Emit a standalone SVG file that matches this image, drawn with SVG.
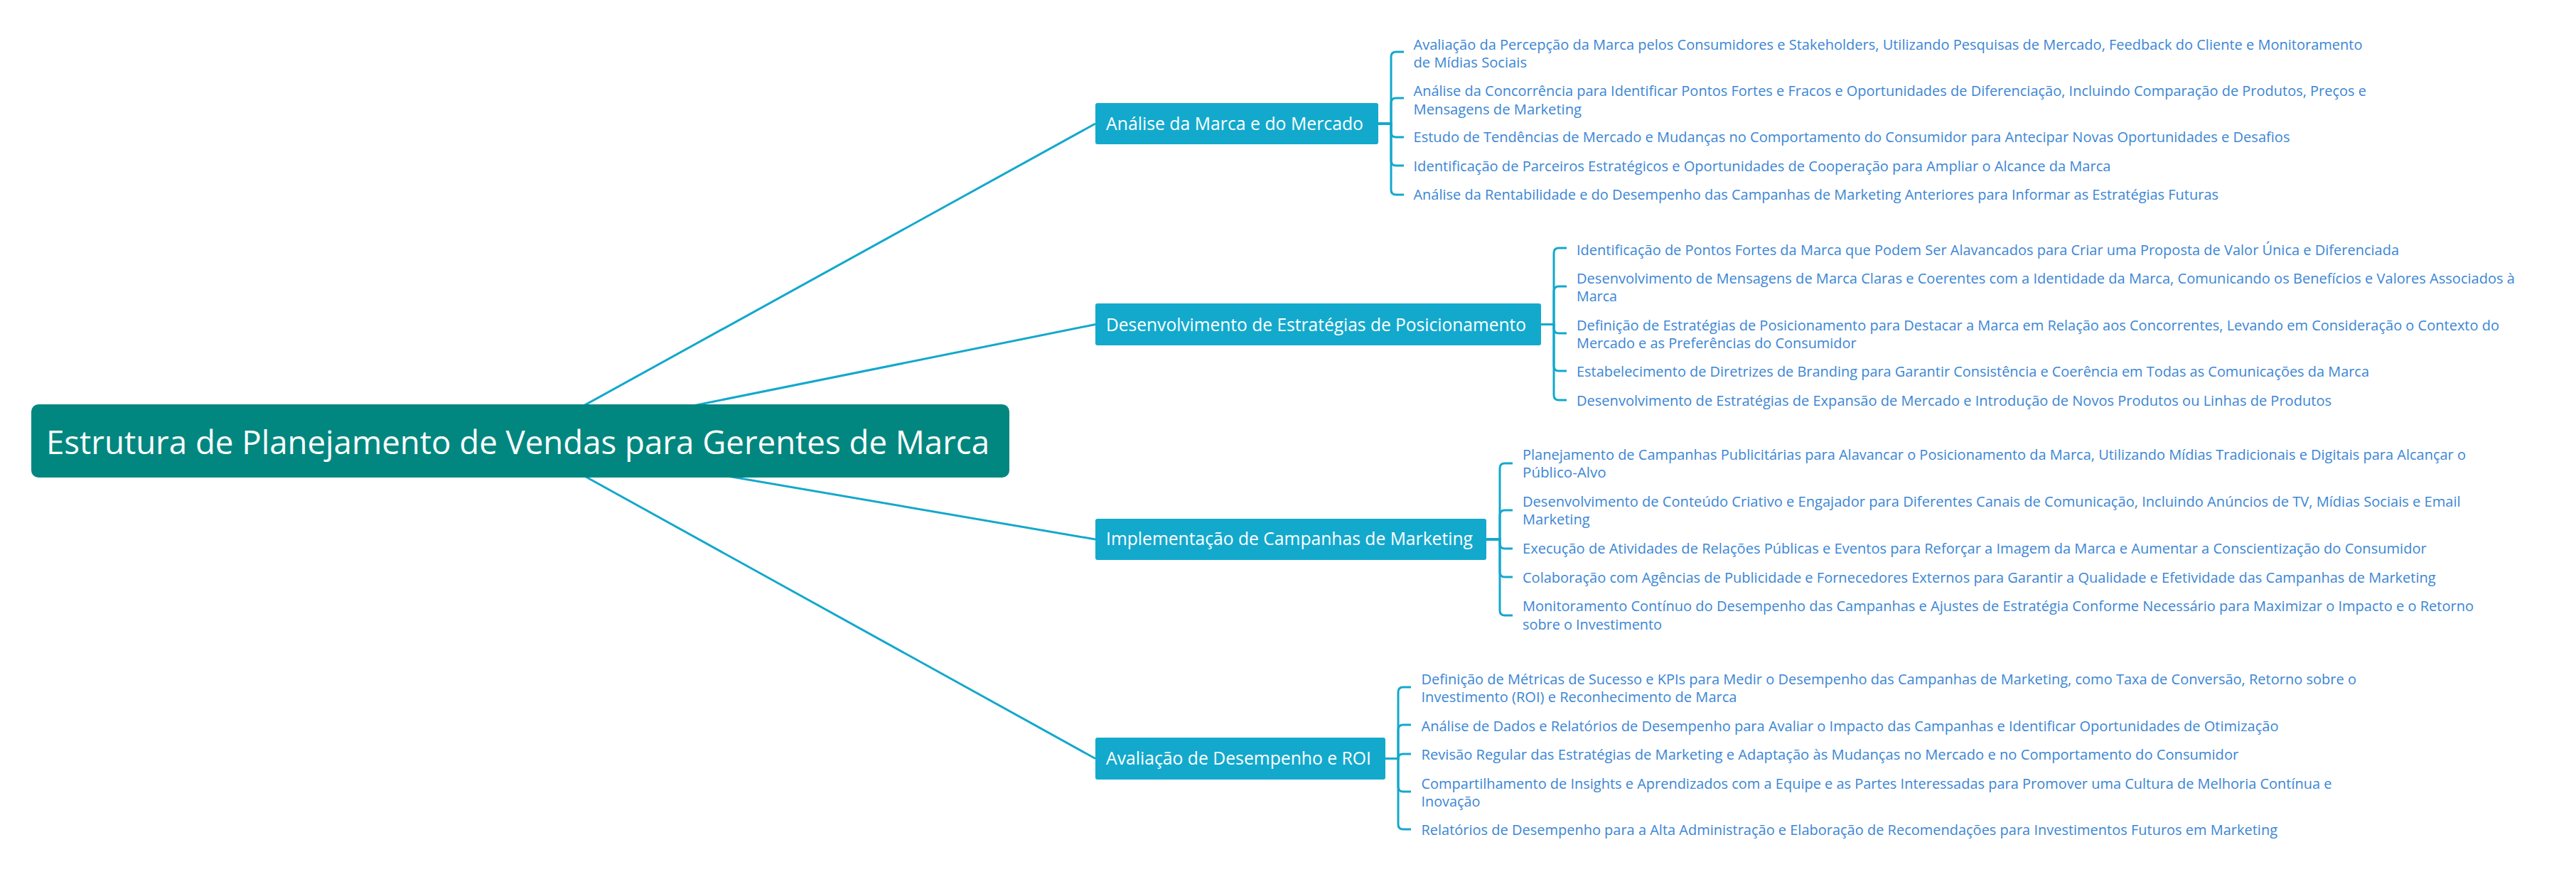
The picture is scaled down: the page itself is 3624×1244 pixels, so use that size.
<svg xmlns="http://www.w3.org/2000/svg" width="3624" height="1244" viewBox="0 0 3624 1244">
<style>
.bg{fill:#ffffff}
.main{stroke:#13a8cc;stroke-width:3;fill:none}
.br{stroke:#13a8cc;stroke-width:3;fill:none;stroke-linecap:butt}
.root{fill:#028780}
.node{fill:#13a9cd}
.rt{font-family:"Open Sans","Noto Sans","DejaVu Sans",sans-serif;font-size:46px;fill:#ffffff}
.nt{font-family:"Open Sans","Noto Sans","DejaVu Sans",sans-serif;font-size:25px;fill:#ffffff}
.ct{font-family:"Open Sans","Noto Sans","DejaVu Sans",sans-serif;font-size:20px;fill:#3b86d4}
</style>
<rect class="bg" x="0" y="0" width="3624" height="1244"/>
<g id="connectors">
<path class="main" d="M732 620 L1541 174"/>
<path class="main" d="M732 620 L1541 456.5"/>
<path class="main" d="M732 620 L1541 759"/>
<path class="main" d="M732 620 L1541 1067.5"/>
<path class="br" d="M1939 174 H1957 V80 Q1957 73 1964 73 H1975"/>
<path class="br" d="M1939 174 H1957 V145 Q1957 138 1964 138 H1975"/>
<path class="br" d="M1939 174 H1957 V186 Q1957 193 1964 193 H1975"/>
<path class="br" d="M1939 174 H1957 V226 Q1957 233 1964 233 H1975"/>
<path class="br" d="M1939 174 H1957 V267 Q1957 274 1964 274 H1975"/>
<path class="br" d="M2168 456.5 H2186 V356 Q2186 349 2193 349 H2204"/>
<path class="br" d="M2168 456.5 H2186 V410 Q2186 403 2193 403 H2204"/>
<path class="br" d="M2168 456.5 H2186 V462 Q2186 469 2193 469 H2204"/>
<path class="br" d="M2168 456.5 H2186 V515 Q2186 522 2193 522 H2204"/>
<path class="br" d="M2168 456.5 H2186 V556 Q2186 563 2193 563 H2204"/>
<path class="br" d="M2091 759 H2110 V659 Q2110 652 2117 652 H2128"/>
<path class="br" d="M2091 759 H2110 V725 Q2110 718 2117 718 H2128"/>
<path class="br" d="M2091 759 H2110 V765 Q2110 772 2117 772 H2128"/>
<path class="br" d="M2091 759 H2110 V805 Q2110 812 2117 812 H2128"/>
<path class="br" d="M2091 759 H2110 V859 Q2110 866 2117 866 H2128"/>
<path class="br" d="M1949 1067.5 H1967 V974 Q1967 967 1974 967 H1985"/>
<path class="br" d="M1949 1067.5 H1967 V1027 Q1967 1020 1974 1020 H1985"/>
<path class="br" d="M1949 1067.5 H1967 V1067.5 Q1967 1061 1974 1061 H1985"/>
<path class="br" d="M1949 1067.5 H1967 V1107 Q1967 1114 1974 1114 H1985"/>
<path class="br" d="M1949 1067.5 H1967 V1160 Q1967 1167 1974 1167 H1985"/>
</g>
<g id="root">
<rect class="root" x="44" y="569" width="1376" height="103" rx="10"/>
<text class="rt" x="65" y="639" textLength="1327" lengthAdjust="spacingAndGlyphs">Estrutura de Planejamento de Vendas para Gerentes de Marca</text>
</g>
<g id="n1">
<rect class="node" x="1541" y="145" width="398" height="58" rx="3"/>
<text class="nt" x="1556" y="183" textLength="362" lengthAdjust="spacingAndGlyphs">Análise da Marca e do Mercado</text>
</g>
<g id="n1c1"><text class="ct"><tspan x="1988.5" y="69.5" textLength="1335" lengthAdjust="spacingAndGlyphs">Avaliação da Percepção da Marca pelos Consumidores e Stakeholders, Utilizando Pesquisas de Mercado, Feedback do Cliente e Monitoramento</tspan><tspan x="1988.5" y="94.5" textLength="159.5" lengthAdjust="spacingAndGlyphs">de Mídias Sociais</tspan></text></g>
<g id="n1c2"><text class="ct"><tspan x="1988.5" y="135" textLength="1340.5" lengthAdjust="spacingAndGlyphs">Análise da Concorrência para Identificar Pontos Fortes e Fracos e Oportunidades de Diferenciação, Incluindo Comparação de Produtos, Preços e</tspan><tspan x="1988.5" y="160.5" textLength="236.6" lengthAdjust="spacingAndGlyphs">Mensagens de Marketing</tspan></text></g>
<g id="n1c3"><text class="ct" x="1988.5" y="200" textLength="1233" lengthAdjust="spacingAndGlyphs">Estudo de Tendências de Mercado e Mudanças no Comportamento do Consumidor para Antecipar Novas Oportunidades e Desafios</text></g>
<g id="n1c4"><text class="ct" x="1988.5" y="240.5" textLength="981" lengthAdjust="spacingAndGlyphs">Identificação de Parceiros Estratégicos e Oportunidades de Cooperação para Ampliar o Alcance da Marca</text></g>
<g id="n1c5"><text class="ct" x="1988.5" y="281" textLength="1132.5" lengthAdjust="spacingAndGlyphs">Análise da Rentabilidade e do Desempenho das Campanhas de Marketing Anteriores para Informar as Estratégias Futuras</text></g>
<g id="n2">
<rect class="node" x="1541" y="427" width="627" height="59" rx="3"/>
<text class="nt" x="1556" y="466" textLength="591" lengthAdjust="spacingAndGlyphs">Desenvolvimento de Estratégias de Posicionamento</text>
</g>
<g id="n2c1"><text class="ct" x="2218" y="358.5" textLength="1157" lengthAdjust="spacingAndGlyphs">Identificação de Pontos Fortes da Marca que Podem Ser Alavancados para Criar uma Proposta de Valor Única e Diferenciada</text></g>
<g id="n2c2"><text class="ct"><tspan x="2218" y="398.5" textLength="1320" lengthAdjust="spacingAndGlyphs">Desenvolvimento de Mensagens de Marca Claras e Coerentes com a Identidade da Marca, Comunicando os Benefícios e Valores Associados à</tspan><tspan x="2218" y="424" textLength="57" lengthAdjust="spacingAndGlyphs">Marca</tspan></text></g>
<g id="n2c3"><text class="ct"><tspan x="2218" y="464.5" textLength="1298" lengthAdjust="spacingAndGlyphs">Definição de Estratégias de Posicionamento para Destacar a Marca em Relação aos Concorrentes, Levando em Consideração o Contexto do</tspan><tspan x="2218" y="490" textLength="393.6" lengthAdjust="spacingAndGlyphs">Mercado e as Preferências do Consumidor</tspan></text></g>
<g id="n2c4"><text class="ct" x="2218" y="530" textLength="1115" lengthAdjust="spacingAndGlyphs">Estabelecimento de Diretrizes de Branding para Garantir Consistência e Coerência em Todas as Comunicações da Marca</text></g>
<g id="n2c5"><text class="ct" x="2218" y="571" textLength="1062" lengthAdjust="spacingAndGlyphs">Desenvolvimento de Estratégias de Expansão de Mercado e Introdução de Novos Produtos ou Linhas de Produtos</text></g>
<g id="n3">
<rect class="node" x="1541" y="730" width="550" height="58" rx="3"/>
<text class="nt" x="1556" y="767" textLength="516" lengthAdjust="spacingAndGlyphs">Implementação de Campanhas de Marketing</text>
</g>
<g id="n3c1"><text class="ct"><tspan x="2142" y="646.5" textLength="1327" lengthAdjust="spacingAndGlyphs">Planejamento de Campanhas Publicitárias para Alavancar o Posicionamento da Marca, Utilizando Mídias Tradicionais e Digitais para Alcançar o</tspan><tspan x="2142" y="672" textLength="117.7" lengthAdjust="spacingAndGlyphs">Público-Alvo</tspan></text></g>
<g id="n3c2"><text class="ct"><tspan x="2142" y="712.5" textLength="1319.6" lengthAdjust="spacingAndGlyphs">Desenvolvimento de Conteúdo Criativo e Engajador para Diferentes Canais de Comunicação, Incluindo Anúncios de TV, Mídias Sociais e Email</tspan><tspan x="2142" y="738" textLength="94.6" lengthAdjust="spacingAndGlyphs">Marketing</tspan></text></g>
<g id="n3c3"><text class="ct" x="2142" y="779" textLength="1271.7" lengthAdjust="spacingAndGlyphs">Execução de Atividades de Relações Públicas e Eventos para Reforçar a Imagem da Marca e Aumentar a Conscientização do Consumidor</text></g>
<g id="n3c4"><text class="ct" x="2142" y="820" textLength="1284.7" lengthAdjust="spacingAndGlyphs">Colaboração com Agências de Publicidade e Fornecedores Externos para Garantir a Qualidade e Efetividade das Campanhas de Marketing</text></g>
<g id="n3c5"><text class="ct"><tspan x="2142" y="859.5" textLength="1338" lengthAdjust="spacingAndGlyphs">Monitoramento Contínuo do Desempenho das Campanhas e Ajustes de Estratégia Conforme Necessário para Maximizar o Impacto e o Retorno</tspan><tspan x="2142" y="885.5" textLength="196" lengthAdjust="spacingAndGlyphs">sobre o Investimento</tspan></text></g>
<g id="n4">
<rect class="node" x="1541" y="1038" width="408" height="59" rx="3"/>
<text class="nt" x="1556" y="1076" textLength="373" lengthAdjust="spacingAndGlyphs">Avaliação de Desempenho e ROI</text>
</g>
<g id="n4c1"><text class="ct"><tspan x="1999.5" y="962.5" textLength="1315.5" lengthAdjust="spacingAndGlyphs">Definição de Métricas de Sucesso e KPIs para Medir o Desempenho das Campanhas de Marketing, como Taxa de Conversão, Retorno sobre o</tspan><tspan x="1999.5" y="988" textLength="444" lengthAdjust="spacingAndGlyphs">Investimento (ROI) e Reconhecimento de Marca</tspan></text></g>
<g id="n4c2"><text class="ct" x="1999.5" y="1028.5" textLength="1206" lengthAdjust="spacingAndGlyphs">Análise de Dados e Relatórios de Desempenho para Avaliar o Impacto das Campanhas e Identificar Oportunidades de Otimização</text></g>
<g id="n4c3"><text class="ct" x="1999.5" y="1069" textLength="1149.8" lengthAdjust="spacingAndGlyphs">Revisão Regular das Estratégias de Marketing e Adaptação às Mudanças no Mercado e no Comportamento do Consumidor</text></g>
<g id="n4c4"><text class="ct"><tspan x="1999.5" y="1109.5" textLength="1281" lengthAdjust="spacingAndGlyphs">Compartilhamento de Insights e Aprendizados com a Equipe e as Partes Interessadas para Promover uma Cultura de Melhoria Contínua e</tspan><tspan x="1999.5" y="1135" textLength="82.8" lengthAdjust="spacingAndGlyphs">Inovação</tspan></text></g>
<g id="n4c5"><text class="ct" x="1999.5" y="1175" textLength="1204.5" lengthAdjust="spacingAndGlyphs">Relatórios de Desempenho para a Alta Administração e Elaboração de Recomendações para Investimentos Futuros em Marketing</text></g>
</svg>
